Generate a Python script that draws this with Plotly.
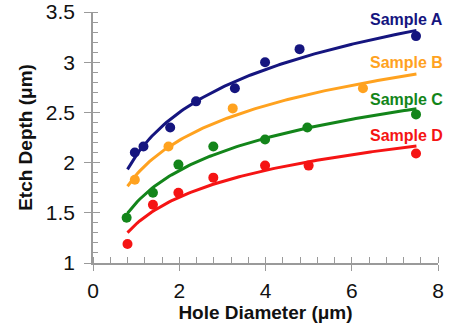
import numpy as np
import plotly.graph_objects as go

# Data
a_x = [0.97, 1.17, 1.79, 2.39, 3.29, 3.99, 4.79, 7.49]
a_y = [2.10, 2.16, 2.35, 2.61, 2.74, 3.00, 3.13, 3.26]
b_x = [0.97, 1.75, 3.24, 6.26]
b_y = [1.83, 2.16, 2.54, 2.74]
c_x = [0.78, 1.39, 1.98, 2.79, 3.99, 4.97, 7.49]
c_y = [1.45, 1.70, 1.98, 2.16, 2.23, 2.35, 2.48]
d_x = [0.80, 1.39, 1.98, 2.79, 3.99, 5.00, 7.49]
d_y = [1.19, 1.58, 1.70, 1.85, 1.97, 1.97, 2.09]
fit_range = [0.8, 7.5]
names = ["Sample A", "Sample B", "Sample C", "Sample D"]
label_y = [3.43, 3.0, 2.63, 2.27]
colors = ["#15157F", "#FFA21F", "#13851A", "#F51414"]

series = [(a_x, a_y), (b_x, b_y), (c_x, c_y), (d_x, d_y)]

fig = go.Figure()
xf = np.linspace(fit_range[0], fit_range[1], 120)
for (xs, ys), col, nm in zip(series, colors, names):
    # logarithmic least-squares trend line from the data
    b, a = np.polyfit(np.log(xs), ys, 1)
    fig.add_trace(go.Scatter(x=xf, y=a + b * np.log(xf), mode="lines",
                             line=dict(color=col, width=3), showlegend=False,
                             hoverinfo="skip"))
    fig.add_trace(go.Scatter(x=xs, y=ys, mode="markers",
                             marker=dict(color=col, size=10), showlegend=False,
                             name=nm))

# invisible trace for overlay axes (crossing major ticks)
fig.add_trace(go.Scatter(x=[0], y=[1], xaxis="x2", yaxis="y2", mode="markers",
                         marker=dict(opacity=0), showlegend=False, hoverinfo="skip"))

for nm, ly, col in zip(names, label_y, colors):
    fig.add_annotation(x=1.02, y=ly, xref="paper", yref="y", text="<b>%s</b>" % nm,
                       showarrow=False, xanchor="right", yanchor="middle",
                       font=dict(family="Liberation Sans, Arial", size=16, color=col))

axcol = "#9a9a9a"
fig.update_layout(
    width=449, height=327,
    margin=dict(l=93, r=11, t=12, b=64),
    plot_bgcolor="white", paper_bgcolor="white",
    font=dict(family="Liberation Sans, Arial", color="#111"),
    xaxis=dict(range=[0, 8], tickvals=[0, 2, 4, 6, 8], showgrid=False, zeroline=False,
               automargin=False,
               showline=True, linecolor=axcol, linewidth=1.5,
               ticks="outside", ticklen=6, tickcolor=axcol, tickwidth=1.2,
               tickfont=dict(size=21, color="#111"), ticklabelstandoff=2,
               minor=dict(dtick=0.4, ticks="inside", ticklen=6, tickcolor=axcol,
                          tickwidth=1, showgrid=False),
               title=dict(text="<b>Hole Diameter (μm)</b>", font=dict(size=19, color="#111"),
                          standoff=2)),
    yaxis=dict(range=[1, 3.5], tickvals=[1, 1.5, 2, 2.5, 3, 3.5],
               ticktext=["1", "1.5", "2", "2.5", "3", "3.5"],
               showgrid=False, zeroline=False, automargin=False,
               showline=True, linecolor=axcol, linewidth=1.5,
               ticks="outside", ticklen=7, tickcolor=axcol, tickwidth=1.2,
               tickfont=dict(size=21, color="#111"), ticklabelstandoff=5,
               minor=dict(dtick=0.1, ticks="inside", ticklen=5, tickcolor=axcol,
                          tickwidth=1, showgrid=False),
               title=dict(text="<b>Etch Depth (μm)</b>", font=dict(size=19, color="#111"),
                          standoff=8)),
    xaxis2=dict(range=[0, 8], overlaying="x", anchor="y2", side="bottom",
                tickvals=[0, 2, 4, 6, 8], showticklabels=False, showgrid=False,
                automargin=False,
                zeroline=False, ticks="inside", ticklen=6, tickcolor=axcol, tickwidth=1.2),
    yaxis2=dict(range=[1, 3.5], overlaying="y", anchor="x2", side="left",
                tickvals=[1, 1.5, 2, 2.5, 3, 3.5], showticklabels=False, showgrid=False,
                automargin=False,
                zeroline=False, ticks="inside", ticklen=7, tickcolor=axcol, tickwidth=1.2),
)

fig.write_html("out.html", config={"displayModeBar": False},
               post_script="document.body.style.margin='0';document.body.style.overflow='hidden';")
